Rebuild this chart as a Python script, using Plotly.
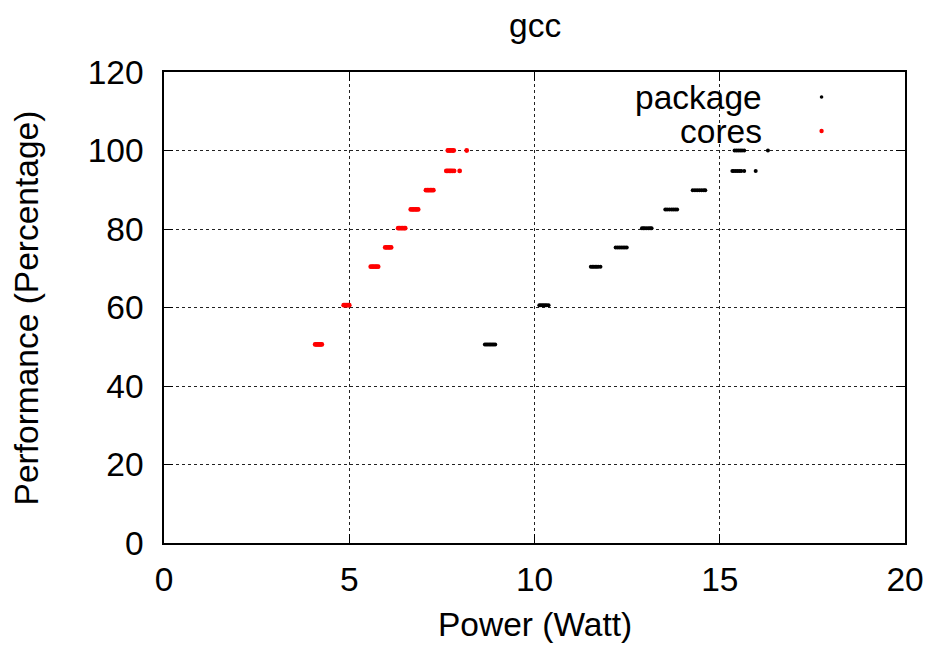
import plotly.graph_objects as go

# ---- data ----
cores_x = [4.08, 4.11, 4.14, 4.17, 4.20, 4.23, 4.26,
           4.85, 4.88, 4.91, 4.94, 4.97, 5.00,
           5.58, 5.62, 5.66, 5.70, 5.74, 5.78,
           5.97, 6.01, 6.05, 6.09, 6.13,
           6.32, 6.36, 6.40, 6.44, 6.48, 6.51,
           6.66, 6.70, 6.74, 6.78, 6.82, 6.86,
           7.07, 7.11, 7.15, 7.19, 7.23, 7.27,
           7.62, 7.66, 7.70, 7.74, 7.78, 7.83, 7.98,
           7.66, 7.70, 7.74, 7.78, 7.82, 8.17]
cores_y = [50.6] * 7 + [60.6] * 6 + [70.4] * 6 + [75.3] * 5 + [80.2] * 6 + \
          [85.0] * 6 + [89.9] * 6 + [94.8] * 7 + [100.0] * 6

package_x = [8.66, 8.70, 8.74, 8.78, 8.82, 8.86, 8.90, 8.94,
             10.13, 10.17, 10.21, 10.25, 10.29, 10.33, 10.38,
             11.52, 11.56, 11.60, 11.64, 11.68, 11.72, 11.78,
             12.19, 12.24, 12.29, 12.34, 12.39, 12.44, 12.49,
             12.90, 12.94, 12.98, 13.03, 13.08, 13.12, 13.16,
             13.53, 13.58, 13.64, 13.70, 13.75, 13.80, 13.85,
             14.27, 14.33, 14.39, 14.45, 14.51, 14.57, 14.61,
             15.34, 15.38, 15.43, 15.48, 15.53, 15.58, 15.66, 15.97,
             15.40, 15.45, 15.50, 15.55, 15.60, 15.66, 16.30]
package_y = [50.6] * 8 + [60.6] * 7 + [70.4] * 7 + [75.3] * 7 + [80.2] * 7 + \
            [85.0] * 7 + [89.9] * 7 + [94.8] * 8 + [100.0] * 7

x_ticks = [0, 5, 10, 15, 20]
y_ticks = [0, 20, 40, 60, 80, 100, 120]

FONT = "Liberation Sans, Arial, sans-serif"
FS = 33.5

fig = go.Figure()
fig.add_trace(go.Scatter(x=package_x, y=package_y, mode="markers", name="package",
                         marker=dict(color="black", size=4, line=dict(width=0))))
fig.add_trace(go.Scatter(x=cores_x, y=cores_y, mode="markers", name="cores",
                         marker=dict(color="red", size=4.8, line=dict(width=0))))

L, R, T, B = 164, 26, 72, 105
W, H = 936, 648
pw, ph = W - L - R, H - T - B

axis_common = dict(showline=True, linecolor="black", linewidth=1.5, mirror="ticks",
                   ticks="inside", ticklen=9, tickwidth=1.2, tickcolor="black",
                   showgrid=True, gridcolor="#222222", gridwidth=1, griddash="dot",
                   zeroline=False, tickfont=dict(family=FONT, size=FS, color="black"))

fig.update_layout(
    width=W, height=H,
    margin=dict(l=L, r=R, t=T, b=B),
    paper_bgcolor="white", plot_bgcolor="white",
    showlegend=False,
    font=dict(family=FONT, size=FS, color="black"),
    xaxis=dict(range=[0, 20], tickvals=x_ticks, ticktext=[str(v) for v in x_ticks],
               ticklabelstandoff=6, **axis_common),
    yaxis=dict(range=[0, 120], tickvals=y_ticks, ticktext=[str(v) for v in y_ticks],
               ticklabelstandoff=12, **axis_common),
)

# title and axis titles
fig.add_annotation(text="gcc", xref="paper", yref="paper", x=0.5, y=1 + 47 / ph,
                   showarrow=False, xanchor="center", yanchor="middle",
                   font=dict(family=FONT, size=FS))
fig.add_annotation(text="Power (Watt)", xref="paper", yref="paper", x=0.5, y=-(624 - 543) / ph,
                   showarrow=False, xanchor="center", yanchor="middle",
                   font=dict(family=FONT, size=FS))
fig.add_annotation(text="Performance (Percentage)", xref="paper", yref="paper",
                   x=-(L - 26) / pw, y=0.5, textangle=-90,
                   showarrow=False, xanchor="center", yanchor="middle",
                   font=dict(family=FONT, size=FS))

# gnuplot-style legend: text right-aligned, key sample on the right
leg = [("package", "black", 97, 1.8), ("cores", "red", 131, 2.2)]
for name, col, ypx, r in leg:
    yp = 1 - (ypx - T) / ph
    fig.add_annotation(text=name, xref="paper", yref="paper", x=(768 - L) / pw, y=yp,
                       showarrow=False, xanchor="right", yanchor="middle",
                       font=dict(family=FONT, size=FS))
    cx = (826 - L) / pw
    fig.add_shape(type="circle", xref="paper", yref="paper",
                  x0=cx - r / pw, x1=cx + r / pw, y0=yp - r / ph, y1=yp + r / ph,
                  fillcolor=col, line=dict(width=0))

fig.write_html("out.html")
